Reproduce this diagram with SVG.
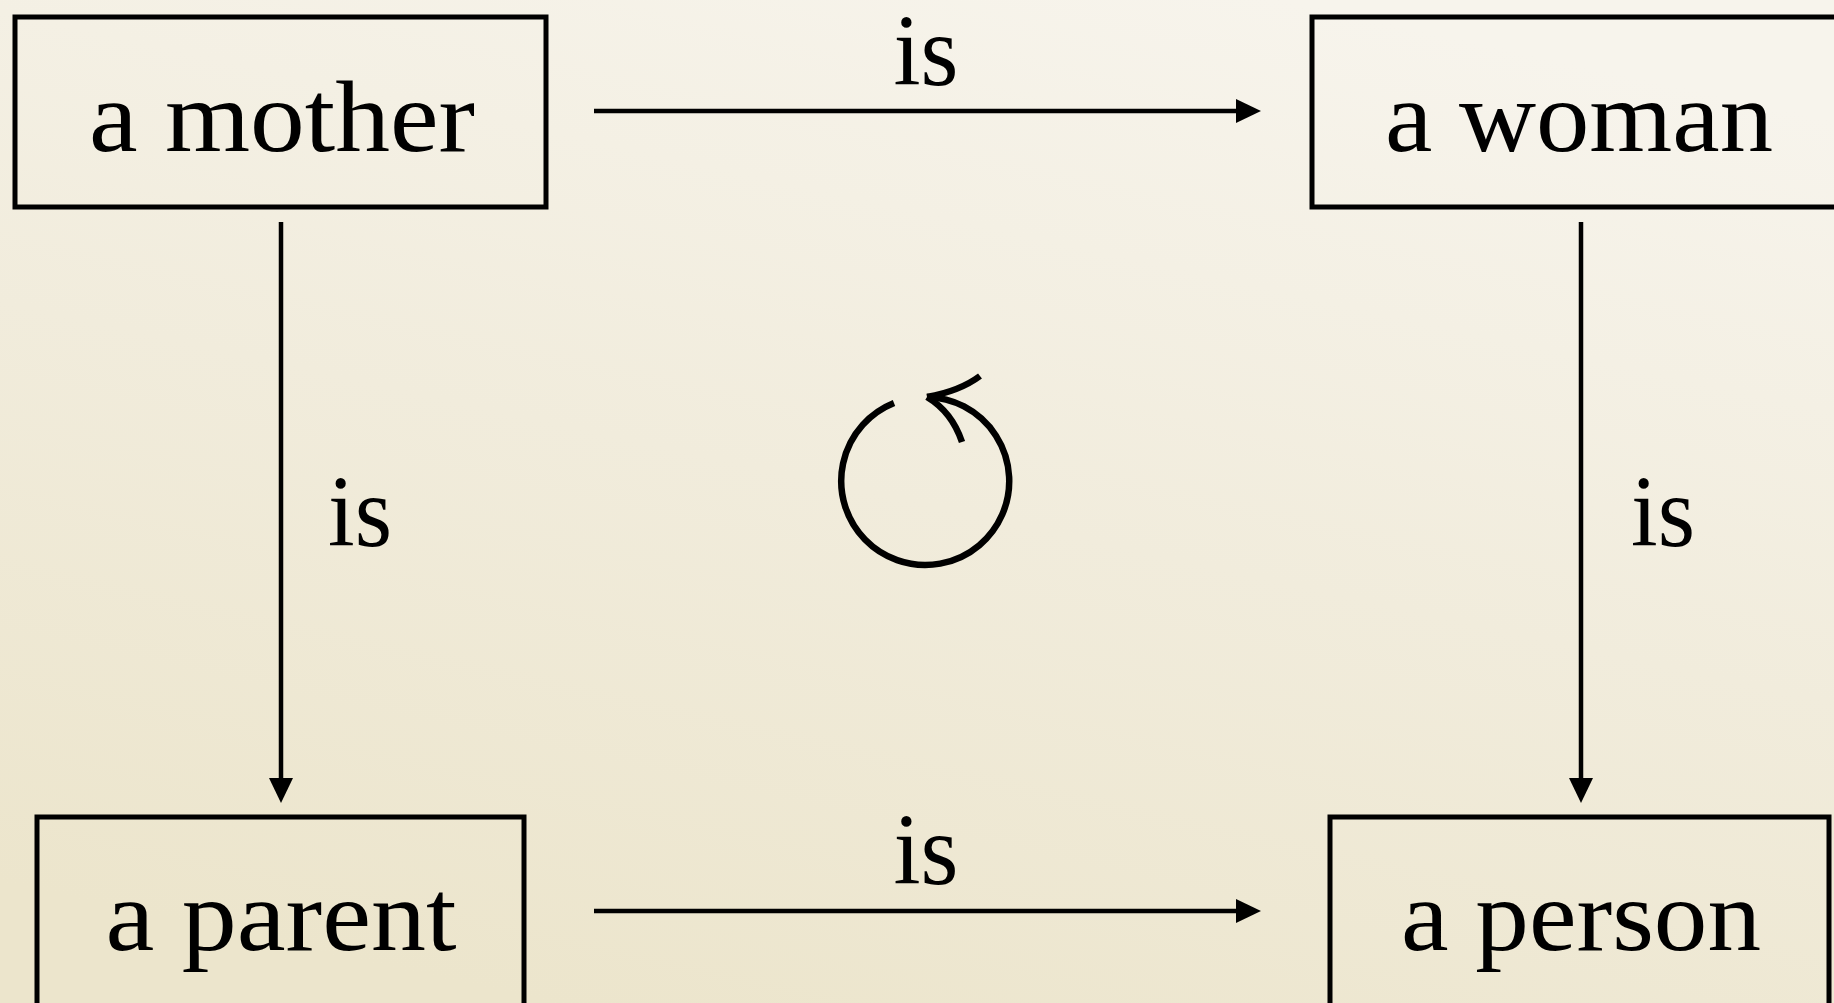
<svg xmlns="http://www.w3.org/2000/svg" width="1834" height="1003" viewBox="0 0 1834 1003">
<defs>
<linearGradient id="bg" x1="0.7" y1="0" x2="0.3" y2="1">
<stop offset="0" stop-color="#f7f4ec"/>
<stop offset="0.5" stop-color="#f1ecdc"/>
<stop offset="1" stop-color="#ece5cc"/>
</linearGradient>
<marker id="ah" markerUnits="userSpaceOnUse" markerWidth="26" markerHeight="24" refX="0" refY="12" orient="auto" viewBox="0 0 26 24">
<path d="M0,0 L25,12 L0,24 z" fill="#000"/>
</marker>
</defs>
<style>
.box{fill:none;stroke:#000;stroke-width:5}
.lbl{font-family:"Liberation Serif","Times New Roman",serif;font-size:102px;fill:#000;text-anchor:middle}
.edge{stroke:#000;stroke-width:4.5;fill:none}
.elbl{font-family:"Liberation Serif","Times New Roman",serif;font-size:102px;fill:#000;text-anchor:middle}
</style>
<rect x="0" y="0" width="1834" height="1003" fill="url(#bg)"/>
<g id="mother">
<rect class="box" x="15" y="17" width="531" height="190"/>
<text class="lbl" x="282" y="151" textLength="386" lengthAdjust="spacingAndGlyphs">a mother</text>
</g>
<g id="woman">
<rect class="box" x="1312" y="17" width="600" height="190"/>
<text class="lbl" x="1579" y="151" textLength="388" lengthAdjust="spacingAndGlyphs">a woman</text>
</g>
<g id="parent">
<rect class="box" x="37" y="817" width="487" height="250"/>
<text class="lbl" x="281" y="950" textLength="351" lengthAdjust="spacingAndGlyphs">a parent</text>
</g>
<g id="person">
<rect class="box" x="1330" y="817" width="499" height="250"/>
<text class="lbl" x="1581" y="950" textLength="360" lengthAdjust="spacingAndGlyphs">a person</text>
</g>
<g id="connectors">
<line class="edge" x1="594" y1="111" x2="1236" y2="111" marker-end="url(#ah)"/>
<text class="elbl" x="926" y="85" textLength="65" lengthAdjust="spacingAndGlyphs">is</text>
<line class="edge" x1="594" y1="911" x2="1236" y2="911" marker-end="url(#ah)"/>
<text class="elbl" x="926" y="884" textLength="65" lengthAdjust="spacingAndGlyphs">is</text>
<line class="edge" x1="281" y1="222" x2="281" y2="778" marker-end="url(#ah)"/>
<text class="elbl" x="360" y="546" textLength="64" lengthAdjust="spacingAndGlyphs">is</text>
<line class="edge" x1="1581" y1="222" x2="1581" y2="778" marker-end="url(#ah)"/>
<text class="elbl" x="1663" y="546" textLength="64" lengthAdjust="spacingAndGlyphs">is</text>
</g>
<g id="cycle" fill="none" stroke="#000" stroke-width="6.5" stroke-linecap="butt">
<path d="M894,403 A84,84 0 1 0 927,397"/>
<path d="M927,397 Q960,391 980,376"/>
<path d="M927,397 Q952,412 962,442"/>
</g>
</svg>
